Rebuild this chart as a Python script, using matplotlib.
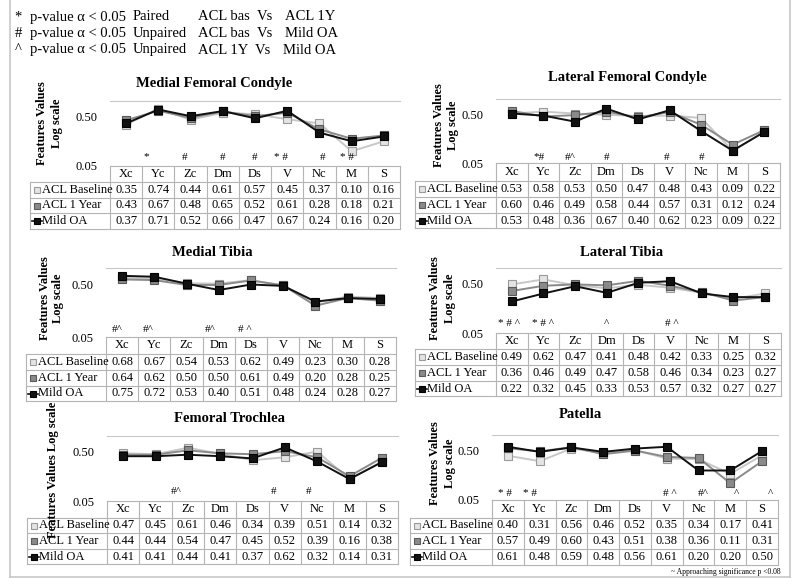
import numpy as np
import matplotlib
matplotlib.use("Agg")
import matplotlib.pyplot as plt
from matplotlib.lines import Line2D

plt.rcParams['font.family'] = ['Liberation Serif', 'DejaVu Serif']

categories = ["Xc", "Yc", "Zc", "Dm", "Ds", "V", "Nc", "M", "S"]
series_names = ["ACL Baseline", "ACL 1 Year", "Mild OA"]

# Medial Femoral Condyle
mfc_base = [0.35, 0.74, 0.44, 0.61, 0.57, 0.45, 0.37, 0.10, 0.16]
mfc_1y = [0.43, 0.67, 0.48, 0.65, 0.52, 0.61, 0.28, 0.18, 0.21]
mfc_oa = [0.37, 0.71, 0.52, 0.66, 0.47, 0.67, 0.24, 0.16, 0.20]
mfc_sig = ["", "*", "#", "#", "#", "* #", "#", "* #", ""]

# Lateral Femoral Condyle
lfc_base = [0.53, 0.58, 0.53, 0.50, 0.47, 0.48, 0.43, 0.09, 0.22]
lfc_1y = [0.60, 0.46, 0.49, 0.58, 0.44, 0.57, 0.31, 0.12, 0.24]
lfc_oa = [0.53, 0.48, 0.36, 0.67, 0.40, 0.62, 0.23, 0.09, 0.22]
lfc_sig = ["", "*#", "#^", "#", "", "#", "#", "", ""]

# Medial Tibia
mt_base = [0.68, 0.67, 0.54, 0.53, 0.62, 0.49, 0.23, 0.30, 0.28]
mt_1y = [0.64, 0.62, 0.50, 0.50, 0.61, 0.49, 0.20, 0.28, 0.25]
mt_oa = [0.75, 0.72, 0.53, 0.40, 0.51, 0.48, 0.24, 0.28, 0.27]
mt_sig = ["#^", "#^", "", "#^", "# ^", "", "", "", ""]

# Lateral Tibia
lt_base = [0.49, 0.62, 0.47, 0.41, 0.48, 0.42, 0.33, 0.25, 0.32]
lt_1y = [0.36, 0.46, 0.49, 0.47, 0.58, 0.46, 0.34, 0.23, 0.27]
lt_oa = [0.22, 0.32, 0.45, 0.33, 0.53, 0.57, 0.32, 0.27, 0.27]
lt_sig = ["* # ^", "* # ^", "", "^", "", "# ^", "", "", ""]

# Femoral Trochlea
ft_base = [0.47, 0.45, 0.61, 0.46, 0.34, 0.39, 0.51, 0.14, 0.32]
ft_1y = [0.44, 0.44, 0.54, 0.47, 0.45, 0.52, 0.39, 0.16, 0.38]
ft_oa = [0.41, 0.41, 0.44, 0.41, 0.37, 0.62, 0.32, 0.14, 0.31]
ft_sig = ["", "", "#^", "", "", "#", "#", "", ""]

# Patella
pat_base = [0.40, 0.31, 0.56, 0.46, 0.52, 0.35, 0.34, 0.17, 0.41]
pat_1y = [0.57, 0.49, 0.60, 0.43, 0.51, 0.38, 0.36, 0.11, 0.31]
pat_oa = [0.61, 0.48, 0.59, 0.48, 0.56, 0.61, 0.20, 0.20, 0.50]
pat_sig = ["* #", "* #", "", "", "", "# ^", "#^", "^", "^"]

legend_lines = [
    ("*", "p-value \u03b1 < 0.05", "Paired", "ACL bas", "Vs", "ACL 1Y"),
    ("#", "p-value \u03b1 < 0.05", "Unpaired", "ACL bas", "Vs", "Mild OA"),
    ("^", "p-value \u03b1 < 0.05", "Unpaired", "ACL 1Y", "Vs", "Mild OA"),
]

W, H = 800, 587
fig = plt.figure(figsize=(8, 5.87), dpi=100)

def fx(x):
    return x / W

def fy(y):
    return 1 - y / H

styles = [
    dict(color="#c8c8c8", mfc="#e4e4e4", mec="#9a9a9a"),
    dict(color="#8a8a8a", mfc="#8a8a8a", mec="#5a5a5a"),
    dict(color="#111111", mfc="#111111", mec="#000000"),
]
grid_c = "#b4b4b4"

def hline(x0, x1, y, c=grid_c, lw=0.8):
    fig.add_artist(Line2D([fx(x0), fx(x1)], [fy(y), fy(y)], color=c, lw=lw))

def vline(x, y0, y1, c=grid_c, lw=0.8):
    fig.add_artist(Line2D([fx(x), fx(x)], [fy(y0), fy(y1)], color=c, lw=lw))

def panel(p):
    lab_l, dat_l, right = p["lab_l"], p["dat_l"], p["right"]
    top, rows = p["top"], p["rows"]
    ax = fig.add_axes([fx(dat_l), fy(top), fx(right - dat_l), (top - p["plot_top"]) / H])
    x = np.arange(len(categories))
    for vals, st in zip(p["data"], styles):
        ax.plot(x, vals, color=st["color"], lw=1.4, marker="s", ms=5.5,
                mfc=st["mfc"], mec=st["mec"], mew=0.8)
    ax.set_yscale("log")
    ax.set_ylim(0.05, 1.06)
    ax.set_xlim(-0.5, len(categories) - 0.5)
    ax.set_yticks([0.05, 0.5])
    ax.set_yticklabels(["0.05", "0.50"], fontsize=9)
    ax.yaxis.set_minor_locator(matplotlib.ticker.NullLocator())
    ax.tick_params(axis="y", length=0, pad=9)
    ax.set_xticks([])
    for s in ["left", "right", "bottom"]:
        ax.spines[s].set_visible(False)
    ax.spines["top"].set_color("#c8c8c8")
    ax.patch.set_alpha(0)
    ax.set_clip_on(False)
    for ln in ax.lines:
        ln.set_clip_on(False)

    # title
    fig.text(fx(p["title_xy"][0]), fy(p["title_xy"][1]), p["title"], ha="center",
             va="center", fontsize=10.5, fontweight="bold")
    # y label
    if p.get("ylab_single"):
        fig.text(fx(p["ylab_x"][0]), fy(p["ylab_y"]), "Features Values Log scale",
                 rotation=90, ha="center", va="center", fontsize=9, fontweight="bold")
    else:
        fig.text(fx(p["ylab_x"][0]), fy(p["ylab_y"]), "Features Values", rotation=90,
                 ha="center", va="center", fontsize=9, fontweight="bold")
        fig.text(fx(p["ylab_x"][1]), fy(p["ylab_y"]), "Log scale", rotation=90,
                 ha="center", va="center", fontsize=9, fontweight="bold")

    # significance marks
    cw = (right - dat_l) / len(categories)
    for i, (s, off) in enumerate(zip(p["sig"], p["sig_off"])):
        if s:
            fig.text(fx(dat_l + (i + 0.5 + off) * cw), fy(p["sig_y"]), s, ha="center",
                     va="center", fontsize=8)

    # table grid
    hline(dat_l, right, top)
    for yy in rows:
        hline(lab_l, right, yy)
    for i in range(len(categories) + 1):
        vline(dat_l + i * cw, top, rows[-1])
    vline(lab_l, rows[0], rows[-1])

    for i, c in enumerate(categories):
        fig.text(fx(dat_l + (i + 0.5) * cw), fy((top + rows[0]) / 2), c, ha="center",
                 va="center", fontsize=9)
    for r, (name, vals, st) in enumerate(zip(series_names, p["data"], styles)):
        yc = (rows[r] + rows[r + 1]) / 2
        if r == 2:
            fig.add_artist(Line2D([fx(lab_l + 2), fx(lab_l + 12)], [fy(yc), fy(yc)],
                                  color=st["color"], lw=1.2))
        fig.add_artist(Line2D([fx(lab_l + 7)], [fy(yc)], marker="s", ms=5,
                              mfc=st["mfc"], mec=st["mec"], mew=0.8, lw=0))
        fig.text(fx(lab_l + 12), fy(yc), name, ha="left", va="center", fontsize=9)
        for i, v in enumerate(vals):
            fig.text(fx(dat_l + (i + 0.5) * cw), fy(yc), "%.2f" % v, ha="center",
                     va="center", fontsize=9)

panels = [
    dict(title="Medial Femoral Condyle", title_xy=(214, 84), data=[mfc_base, mfc_1y, mfc_oa],
         sig=mfc_sig, sig_off=[0, -0.37, -0.2, 0, 0, -0.2, 0.1, -0.15, 0], sig_y=157,
         lab_l=30, dat_l=110, right=400, top=166, rows=[182, 198, 213, 229], plot_top=101,
         ylab_x=(42, 57), ylab_y=123),
    dict(title="Lateral Femoral Condyle", title_xy=(627, 78), data=[lfc_base, lfc_1y, lfc_oa],
         sig=lfc_sig, sig_off=[0, -0.15, -0.15, 0, 0, -0.1, 0, 0, 0], sig_y=157,
         lab_l=415, dat_l=496, right=780, top=163, rows=[181, 197, 213, 228], plot_top=99,
         ylab_x=(439, 453), ylab_y=125),
    dict(title="Medial Tibia", title_xy=(212, 252), data=[mt_base, mt_1y, mt_oa],
         sig=mt_sig, sig_off=[-0.15, -0.2, 0, -0.25, -0.2, 0, 0, 0, 0], sig_y=329,
         lab_l=26, dat_l=106, right=396, top=337, rows=[354, 370, 386, 401], plot_top=268,
         ylab_x=(45, 58), ylab_y=298),
    dict(title="Lateral Tibia", title_xy=(622, 252), data=[lt_base, lt_1y, lt_oa],
         sig=lt_sig, sig_off=[-0.1, 0, 0, 0, 0, 0.05, 0, 0, 0], sig_y=323,
         lab_l=415, dat_l=496, right=781, top=333, rows=[349, 365, 381, 396], plot_top=268,
         ylab_x=(435, 450), ylab_y=298),
    dict(title="Femoral Trochlea", title_xy=(230, 418), data=[ft_base, ft_1y, ft_oa],
         sig=ft_sig, sig_off=[0, 0, -0.35, 0, 0, -0.35, -0.25, 0, 0], sig_y=492,
         lab_l=27, dat_l=107, right=398, top=501, rows=[518, 533, 549, 564], plot_top=436,
         ylab_x=(53, 53), ylab_y=470, ylab_single=True),
    dict(title="Patella", title_xy=(580, 415), data=[pat_base, pat_1y, pat_oa],
         sig=pat_sig, sig_off=[-0.1, -0.3, 0, 0, 0, 0.1, 0.15, 0.2, 0.25], sig_y=493,
         lab_l=410, dat_l=492, right=778, top=500, rows=[518, 533, 549, 565], plot_top=435,
         ylab_x=(435, 450), ylab_y=463),
]

for p in panels:
    panel(p)

# significance legend at top
xs = [18, 30, 133, 198, 257, 285]
for k, parts in enumerate(legend_lines):
    yy = 17 + k * 16.5
    for j, t in enumerate(parts):
        xx = xs[j]
        if k == 2 and j >= 4:
            xx = xs[j] - 2
        fig.text(fx(xx), fy(yy), t, ha="left" if j else "center", va="center", fontsize=10.5)

fig.text(fx(781), fy(572), "~ Approaching significance p <0.08", ha="right", va="center",
         fontsize=5.5)

# outer frame
vline(10, 0, 577, c="#c8c8c8", lw=1.2)
vline(790, 0, 577, c="#c8c8c8", lw=1.2)
hline(10, 790, 577, c="#c8c8c8", lw=1.2)

fig.savefig("out.png", dpi=100)
